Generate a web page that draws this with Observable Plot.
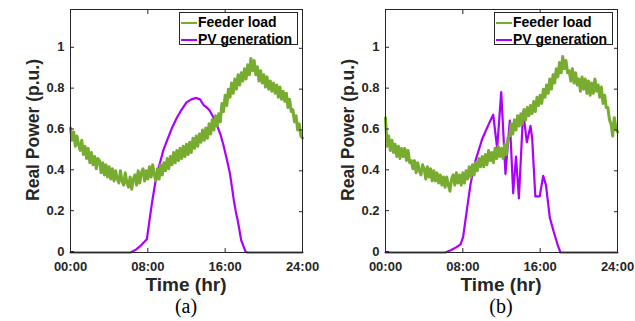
<!DOCTYPE html>
<html><head><meta charset="utf-8">
<script src="https://cdn.jsdelivr.net/npm/d3@7"></script>
<script src="https://cdn.jsdelivr.net/npm/@observablehq/plot@0.6"></script>
<style>
body{margin:0;background:#fff;}
#wrap{position:relative;width:635px;height:321px;overflow:hidden;font-family:"Liberation Sans",Arial,sans-serif;color:#262626;}
.panel{position:absolute;top:0;width:320px;height:321px;}
.panel svg{position:absolute;left:0;top:0;overflow:visible;}
.legend{position:absolute;left:179px;top:12px;width:117px;height:31px;border:1px solid #262626;background:#fff;}
.legend .sw{position:absolute;left:1px;width:16px;height:2.4px;}
.legend .lt{position:absolute;left:18px;font-size:14px;font-weight:bold;line-height:14px;color:#000;white-space:nowrap;}
.xl{position:absolute;left:86px;width:200px;text-align:center;top:274.5px;font-size:19px;font-weight:bold;line-height:19px;}
.yl{position:absolute;left:33px;top:130px;transform:translate(-50%,-50%) rotate(-90deg);font-size:17.5px;font-weight:bold;white-space:nowrap;line-height:18px;}
.cap{position:absolute;left:86px;width:200px;text-align:center;top:296px;font-family:"Liberation Serif","Times New Roman",serif;font-size:20px;line-height:20px;color:#000;}
</style>
</head><body>
<div id="wrap"></div>
<script>
// ---- data ----
const seriesNames = ["Feeder load", "PV generation"];
const panelCaptions = ["(a)", "(b)"];
const xTicks = [0, 8, 16, 24];
const xTickLabels = ["00:00", "08:00", "16:00", "24:00"];
const yTicks = [0, 0.2, 0.4, 0.6, 0.8, 1];
const yTickLabels = ["0", "0.2", "0.4", "0.6", "0.8", "1"];

// feeder load, 10-minute samples from 00:00 to 24:00 (6 per hour)
const loadA = [
  0.61,0.55,0.59,0.52,0.57,0.53, 0.50,0.55,0.48,0.52,0.46,0.51,
  0.44,0.49,0.43,0.47,0.41,0.46, 0.45,0.39,0.44,0.38,0.43,0.37,
  0.42,0.36,0.41,0.35,0.40,0.36, 0.34,0.40,0.35,0.33,0.39,0.34,
  0.32,0.37,0.31,0.36,0.38,0.33, 0.40,0.34,0.39,0.41,0.35,0.40,
  0.36,0.42,0.37,0.43,0.38,0.35, 0.41,0.36,0.43,0.38,0.44,0.40,
  0.46,0.41,0.47,0.43,0.49,0.44, 0.50,0.45,0.51,0.46,0.52,0.47,
  0.53,0.48,0.54,0.49,0.56,0.51, 0.57,0.52,0.58,0.54,0.60,0.55,
  0.61,0.56,0.63,0.58,0.65,0.60, 0.67,0.62,0.68,0.64,0.73,0.69,
  0.77,0.72,0.80,0.76,0.83,0.78, 0.85,0.80,0.87,0.82,0.88,0.84,
  0.90,0.85,0.92,0.87,0.95,0.89, 0.94,0.87,0.91,0.84,0.89,0.83,
  0.87,0.81,0.86,0.80,0.84,0.79, 0.83,0.78,0.82,0.76,0.81,0.75,
  0.79,0.74,0.78,0.71,0.75,0.69, 0.70,0.64,0.67,0.60,0.63,0.57,
  0.56
];
const loadB = [
  0.66,0.52,0.57,0.50,0.55,0.49, 0.53,0.47,0.52,0.46,0.51,0.47,
  0.51,0.45,0.50,0.44,0.45,0.41, 0.45,0.39,0.44,0.40,0.38,0.43,
  0.41,0.36,0.42,0.37,0.41,0.35, 0.40,0.35,0.39,0.34,0.38,0.33,
  0.37,0.32,0.37,0.33,0.30,0.36, 0.38,0.33,0.39,0.34,0.38,0.33,
  0.39,0.34,0.40,0.36,0.42,0.37, 0.43,0.38,0.44,0.40,0.46,0.42,
  0.47,0.42,0.48,0.43,0.50,0.45, 0.49,0.44,0.51,0.46,0.52,0.47,
  0.51,0.46,0.53,0.48,0.56,0.57, 0.63,0.58,0.65,0.60,0.67,0.62,
  0.68,0.63,0.70,0.65,0.71,0.67, 0.72,0.68,0.74,0.69,0.76,0.72,
  0.77,0.73,0.80,0.76,0.82,0.78, 0.85,0.80,0.87,0.83,0.90,0.86,
  0.93,0.88,0.96,0.90,0.94,0.88, 0.89,0.84,0.90,0.83,0.88,0.82,
  0.85,0.79,0.86,0.80,0.85,0.78, 0.84,0.77,0.83,0.78,0.85,0.79,
  0.82,0.76,0.81,0.73,0.77,0.71, 0.71,0.65,0.63,0.57,0.66,0.61,
  0.59
];
// PV generation: [hour, p.u.]
const pvA = [
  [0,0],[6.2,0],[6.8,0.015],[7.3,0.035],[7.9,0.065],[8.15,0.15],[8.45,0.25],[8.8,0.35],
  [9.15,0.42],[9.6,0.50],[10,0.55],[10.5,0.61],[11,0.66],[11.5,0.70],[12,0.735],[12.5,0.75],
  [13.0,0.757],[13.4,0.75],[13.8,0.72],[14.1,0.71],[14.4,0.695],[14.8,0.66],[15.1,0.63],
  [15.5,0.58],[15.8,0.53],[16.2,0.45],[16.5,0.385],[16.9,0.255],[17.1,0.2],[17.3,0.157],
  [17.66,0.06],[18.1,0.005],[18.3,0],[24,0]
];
const pvB = [
  [0,0],[6.2,0],[6.8,0.012],[7.3,0.025],[7.76,0.04],[8.03,0.075],[8.45,0.22],[8.8,0.336],
  [9.31,0.45],[10,0.556],[10.69,0.63],[11.14,0.675],[11.55,0.51],[11.97,0.785],[12.41,0.385],
  [12.86,0.646],[13.21,0.29],[13.5,0.47],[13.8,0.265],[14.24,0.69],[14.62,0.54],[15.0,0.62],
  [15.17,0.56],[15.5,0.275],[15.95,0.275],[16.31,0.375],[16.6,0.33],[17.0,0.17],[17.41,0.10],
  [17.83,0.034],[18.1,0],[24,0]
];

const GREEN = "#77ac30", PURPLE = "#aa00ff", AX = "#262626";

function makePanel(load, pv, caption, left) {
  const loadData = load.map((v, i) => ({t: i / 6, v}));
  const pvData = pv.map(([t, v]) => ({t, v}));
  const fmtX = d => xTickLabels[xTicks.indexOf(d)];
  const fmtY = d => yTickLabels[yTicks.indexOf(d)];
  const chart = Plot.plot({
    width: 320, height: 321,
    marginLeft: 70, marginRight: 18, marginTop: 9, marginBottom: 69,
    style: {background: "transparent", fontFamily: "Liberation Sans, Arial, sans-serif", fontWeight: "bold", color: AX, overflow: "visible"},
    x: {domain: [0, 24]},
    y: {domain: [0, 1.19]},
    marks: [
      Plot.line(pvData, {x: "t", y: "v", stroke: PURPLE, strokeWidth: 2.2}),
      Plot.line(loadData, {x: "t", y: "v", stroke: GREEN, strokeWidth: 3}),
      Plot.frame({stroke: AX, strokeWidth: 1}),
      Plot.axisX({ticks: xTicks, tickFormat: fmtX, tickSize: -4, tickPadding: 13, fontSize: 13, label: null, stroke: AX}),
      Plot.axisX({anchor: "top", ticks: xTicks, tickFormat: () => "", tickSize: -4, label: null, stroke: AX}),
      Plot.axisY({ticks: yTicks, tickFormat: fmtY, tickSize: -4, tickPadding: 10, fontSize: 13, dy: -1, label: null, stroke: AX}),
      Plot.axisY({anchor: "right", ticks: yTicks, tickFormat: () => "", tickSize: -4, label: null, stroke: AX})
    ]
  });
  const div = document.createElement("div");
  div.className = "panel";
  div.style.left = left + "px";
  div.appendChild(chart);
  div.insertAdjacentHTML("beforeend", `
    <div class="legend">
      <span class="sw" style="top:9px;background:${GREEN}"></span><span class="lt" style="top:2px">${seriesNames[0]}</span>
      <span class="sw" style="top:26px;background:${PURPLE}"></span><span class="lt" style="top:19px">${seriesNames[1]}</span>
    </div>
    <div class="yl">Real Power (p.u.)</div>
    <div class="xl">Time (hr)</div>
    <div class="cap">${caption}</div>`);
  document.getElementById("wrap").appendChild(div);
}
makePanel(loadA, pvA, panelCaptions[0], 0);
makePanel(loadB, pvB, panelCaptions[1], 315);
</script>
</body></html>
